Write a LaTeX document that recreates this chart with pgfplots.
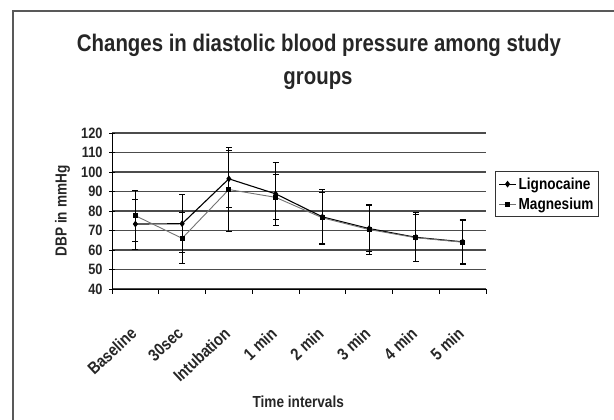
\documentclass[border=0pt]{standalone}
\usepackage{pgfplots}
\pgfplotsset{compat=1.18}
\usepackage{fontspec}
\setmainfont{Liberation Sans}[FakeStretch=0.85]
\begin{document}
\begin{tikzpicture}[x=1pt,y=1pt]
\useasboundingbox (0,0) rectangle (614,420);
\draw[black!65, line width=1.3pt] (13,-5) -- (13,409) -- (620,409);
\node[font=\fontsize{24}{28}\selectfont\bfseries, text=black!85, anchor=base, inner sep=0pt] at (319,368) {Changes in diastolic blood pressure among study};
\node[font=\fontsize{24}{28}\selectfont\bfseries, text=black!85, anchor=base, inner sep=0pt] at (318,335) {groups};
\begin{axis}[
  at={(112pt,131pt)}, anchor=south west,
  scale only axis, width=374pt, height=156pt,
  xmin=-0.5, xmax=7.5, ymin=40, ymax=120,
  ytick={40,50,...,120},
  xtick={0,...,7},
  xticklabels={Baseline,30sec,Intubation,1 min,2 min,3 min,4 min,5 min},
  minor xtick={-0.5,0.5,...,7.5},
  major x tick style={draw=none},
  minor x tick style={black, line width=0.8pt},
  y tick style={black, line width=0.8pt},
  minor tick length=5pt,
  major tick length=6pt,
  ytick align=center,
  xtick align=outside,
  tick pos=left,
  axis x line*=bottom, axis y line*=left,
  axis line style={black, line width=0.9pt, -},
  ymajorgrids, major grid style={black!70, line width=1.6pt},
  every tick label/.append style={text=black!85},
  yticklabel style={font=\fontsize{15}{17}\selectfont\bfseries, xshift=-3pt},
  /pgf/number format/assume math mode=true,
  xticklabel style={xshift=-6pt, yshift=-31pt, font=\fontsize{17}{19}\selectfont\bfseries, rotate=43, anchor=north east, inner sep=0pt},
  xlabel={Time intervals},
  ylabel={DBP in mmHg},
  label style={font=\fontsize{16}{18}\selectfont\bfseries, text=black!85},
  xlabel style={at={(axis description cs:0.498,-0.724)}, anchor=center},
  ylabel style={at={(axis description cs:-0.132,0.5)}, anchor=center},
  legend style={at={(axis description cs:1.024,0.756)}, anchor=north west, draw=black!80, line width=1pt,
    font=\fontsize{16}{18}\selectfont\bfseries, inner xsep=3pt, inner ysep=4pt, row sep=3pt},
  legend cell align=left,
  clip=false,
]
\addplot+[black, line width=1.1pt, mark=diamond*, mark size=2.5pt, mark options={black, solid},
  error bars/.cd, y dir=both, y explicit, error mark options={rotate=90, mark size=3pt, line width=1pt, black},
  error bar style={line width=1pt, black}]
  coordinates {
  (0,73.3) +- (0,12.8)
  (1,73.5) +- (0,15)
  (2,96.5) +- (0,14.5)
  (3,88.8) +- (0,16)
  (4,77.0) +- (0,14)
  (5,71.0) +- (0,12)
  (6,66.5) +- (0,12.5)
  (7,64.2) +- (0,11)
  };
\addlegendentry{Lignocaine}
\addplot+[black!55, line width=0.9pt, mark=square*, mark size=2pt, mark options={black, solid},
  error bars/.cd, y dir=both, y explicit, error mark options={rotate=90, mark size=3pt, line width=1pt, black},
  error bar style={line width=1pt, black}]
  coordinates {
  (0,77.6) +- (0,13)
  (1,66.0) +- (0,13)
  (2,91.0) +- (0,21.5)
  (3,87.0) +- (0,11.5)
  (4,76.5) +- (0,13)
  (5,70.5) +- (0,13)
  (6,66.3) +- (0,12)
  (7,64.0) +- (0,11.5)
  };
\addlegendentry{Magnesium}
\end{axis}
\end{tikzpicture}
\end{document}
